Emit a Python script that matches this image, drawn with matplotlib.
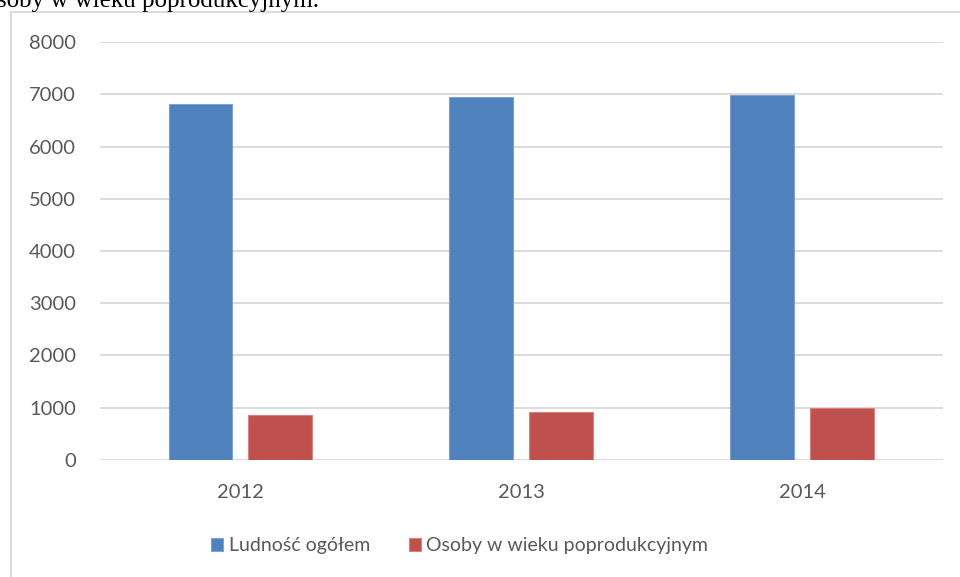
import numpy as np
import matplotlib
matplotlib.use("Agg")
import matplotlib.pyplot as plt
from matplotlib.patches import Rectangle

years = ["2012", "2013", "2014"]
ludnosc = [6820, 6940, 6995]
poprod = [860, 910, 990]
series_names = ["Ludność ogółem", "Osoby w wieku poprodukcyjnym"]

blue = "#4f81bd"
red = "#c0504d"
grey_txt = "#595959"

plt.rcParams['font.family'] = ['Lato', 'DejaVu Sans']

fig = plt.figure(figsize=(9.6, 5.77), dpi=100)
ax = fig.add_axes([0.104, 0.2028, 0.878, 0.7244])

# outer chart frame (cut off at right and bottom)
fig.patches.append(Rectangle((11 / 960, -0.1), 1.2, 1 - 12 / 577 + 0.1,
                             transform=fig.transFigure, fill=False,
                             edgecolor="#d9d9d9", linewidth=1.3))

# clipped caption text above the chart
fig.text(-0.003, 1 - 7.5 / 577, "soby w wieku poprodukcyjnym.", family="Liberation Serif",
         fontsize=18, color="black", va="baseline", ha="left")

x = np.arange(len(years))
w = 0.227
off = 0.142
ax.bar(x - off, ludnosc, w, color=blue, edgecolor="#7ea3d3", linewidth=0.8,
       label=series_names[0], zorder=3)
ax.bar(x + off, poprod, w, color=red, edgecolor="#d58380", linewidth=0.8,
       label=series_names[1], zorder=3)

ax.set_xlim(-0.5, 2.5)
ax.set_ylim(0, 8000)
ax.set_yticks(range(0, 8001, 1000))
ax.set_xticks(x)
ax.set_xticklabels(years)
ax.grid(axis="y", color="#d9d9d9", linewidth=1.3, zorder=0)
for s in ax.spines.values():
    s.set_visible(False)
ax.tick_params(length=0, labelsize=14.5, colors=grey_txt)
ax.tick_params(axis="y", pad=17)
ax.tick_params(axis="x", pad=17)

leg = fig.legend(loc="center", bbox_to_anchor=(0.479, 1 - 546 / 577), ncol=2,
                 frameon=False, fontsize=14, handlelength=0.6, handleheight=0.6,
                 handletextpad=0.3, columnspacing=2.0)
for t in leg.get_texts():
    t.set_color(grey_txt)

fig.savefig("out.png", dpi=100)
